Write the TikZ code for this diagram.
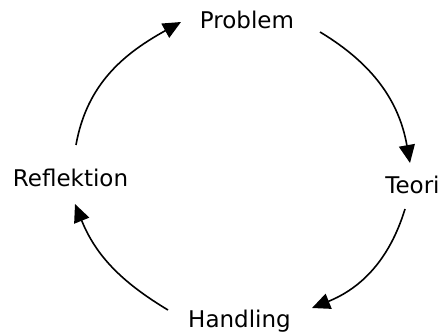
\documentclass[tikz,border=0pt]{standalone}
\usepackage{fontspec}
\setmainfont{DejaVu Sans}
\usetikzlibrary{arrows.meta}
\begin{document}
\begin{tikzpicture}[x=1pt,y=1pt,
  label/.style={anchor=base,inner sep=0pt,font=\fontsize{23}{27}\selectfont},
  cyclearrow/.style={line width=1.6pt,-{Triangle[length=18pt,width=16pt]}}]
\useasboundingbox (0,0) rectangle (441,335);
% stages of the cycle
\node[label] (prob)  at (247,306)  {Problem};
\node[label] (teori) at (412.5,142) {Teori};
\node[label] (hand)  at (239.5,8)  {Handling};
\node[label] (refl)  at (70.5,149) {Reflektion};
% arrow end points around the labels
\coordinate (prob-out)  at (320,303);
\coordinate (teori-in)  at (410,172);
\coordinate (teori-out) at (405,126);
\coordinate (hand-in)   at (312,27);
\coordinate (hand-out)  at (168,25);
\coordinate (refl-in)   at (75,131);
\coordinate (refl-out)  at (76,190);
\coordinate (prob-in)   at (181,313);
% curved arrows
\draw[cyclearrow] (prob-out)  to[out=-31,in=100]  (teori-in);
\draw[cyclearrow] (teori-out) to[out=-107,in=22]  (hand-in);
\draw[cyclearrow] (hand-out)  to[out=149,in=-68]  (refl-in);
\draw[cyclearrow] (refl-out)  to[out=80,in=209]   (prob-in);
\end{tikzpicture}
\end{document}
